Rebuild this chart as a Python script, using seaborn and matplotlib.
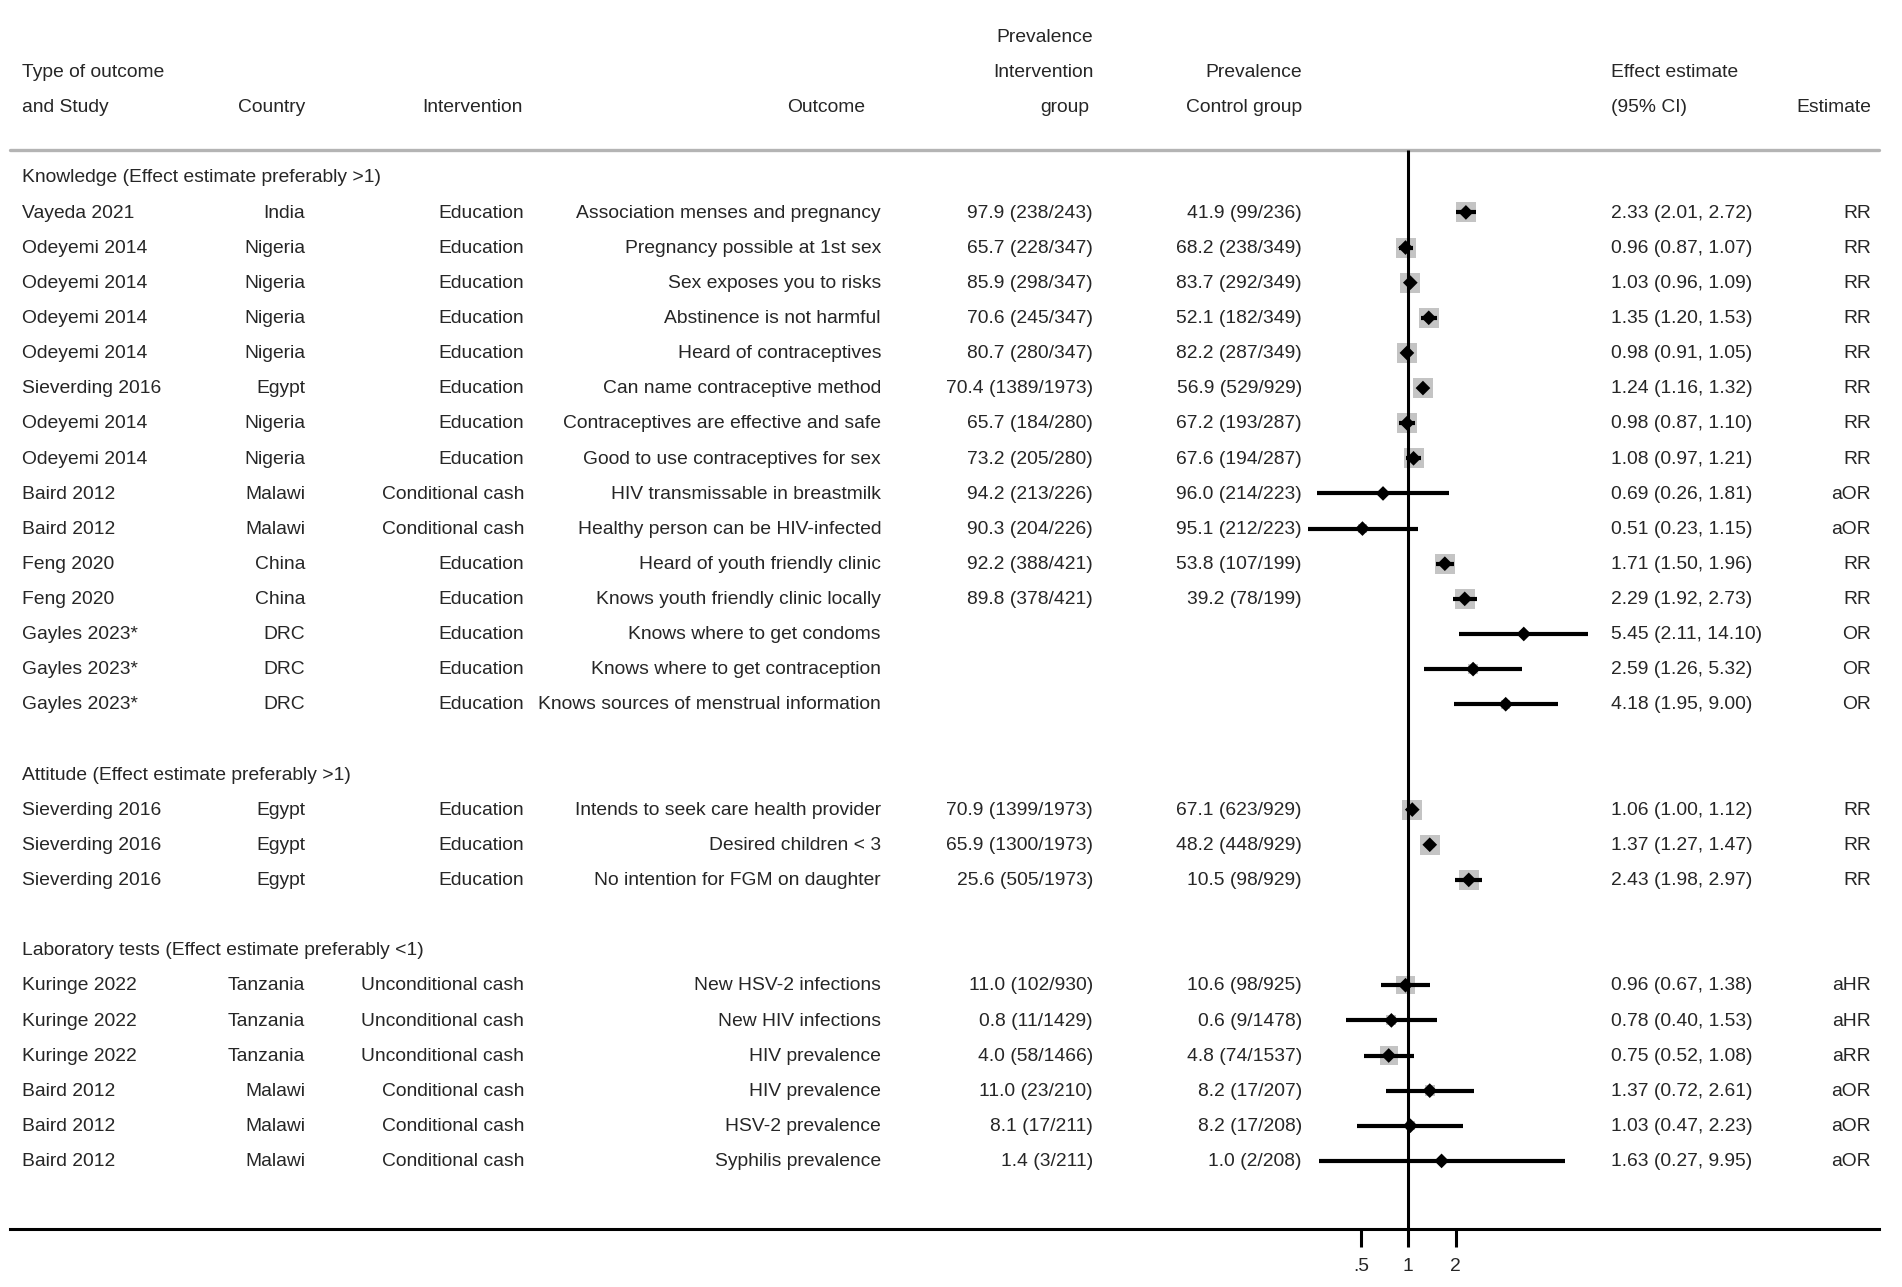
import matplotlib
matplotlib.use("Agg")
import matplotlib.pyplot as plt
import matplotlib.transforms as mtransforms
from matplotlib.ticker import NullLocator
import numpy as np
import pandas as pd
import seaborn as sns

group_titles = [
    "Knowledge (Effect estimate preferably >1)",
    "Attitude (Effect estimate preferably >1)",
    "Laboratory tests (Effect estimate preferably <1)",
]
group_sizes = [15, 3, 6]

study = [
    "Vayeda 2021", "Odeyemi 2014", "Odeyemi 2014", "Odeyemi 2014", "Odeyemi 2014",
    "Sieverding 2016", "Odeyemi 2014", "Odeyemi 2014", "Baird 2012", "Baird 2012",
    "Feng 2020", "Feng 2020", "Gayles 2023*", "Gayles 2023*", "Gayles 2023*",
    "Sieverding 2016", "Sieverding 2016", "Sieverding 2016",
    "Kuringe 2022", "Kuringe 2022", "Kuringe 2022", "Baird 2012", "Baird 2012", "Baird 2012",
]
country = [
    "India", "Nigeria", "Nigeria", "Nigeria", "Nigeria", "Egypt", "Nigeria", "Nigeria",
    "Malawi", "Malawi", "China", "China", "DRC", "DRC", "DRC",
    "Egypt", "Egypt", "Egypt",
    "Tanzania", "Tanzania", "Tanzania", "Malawi", "Malawi", "Malawi",
]
intervention = [
    "Education", "Education", "Education", "Education", "Education", "Education",
    "Education", "Education", "Conditional cash", "Conditional cash", "Education",
    "Education", "Education", "Education", "Education",
    "Education", "Education", "Education",
    "Unconditional cash", "Unconditional cash", "Unconditional cash",
    "Conditional cash", "Conditional cash", "Conditional cash",
]
outcome = [
    "Association menses and pregnancy", "Pregnancy possible at 1st sex",
    "Sex exposes you to risks", "Abstinence is not harmful", "Heard of contraceptives",
    "Can name contraceptive method", "Contraceptives are effective and safe",
    "Good to use contraceptives for sex", "HIV transmissable in breastmilk",
    "Healthy person can be HIV-infected", "Heard of youth friendly clinic",
    "Knows youth friendly clinic locally", "Knows where to get condoms",
    "Knows where to get contraception", "Knows sources of menstrual information",
    "Intends to seek care health provider", "Desired children < 3",
    "No intention for FGM on daughter",
    "New HSV-2 infections", "New HIV infections", "HIV prevalence",
    "HIV prevalence", "HSV-2 prevalence", "Syphilis prevalence",
]
prev_int = [
    "97.9 (238/243)", "65.7 (228/347)", "85.9 (298/347)", "70.6 (245/347)",
    "80.7 (280/347)", "70.4 (1389/1973)", "65.7 (184/280)", "73.2 (205/280)",
    "94.2 (213/226)", "90.3 (204/226)", "92.2 (388/421)", "89.8 (378/421)", "", "", "",
    "70.9 (1399/1973)", "65.9 (1300/1973)", "25.6 (505/1973)",
    "11.0 (102/930)", "0.8 (11/1429)", "4.0 (58/1466)", "11.0 (23/210)",
    "8.1 (17/211)", "1.4 (3/211)",
]
prev_ctl = [
    "41.9 (99/236)", "68.2 (238/349)", "83.7 (292/349)", "52.1 (182/349)",
    "82.2 (287/349)", "56.9 (529/929)", "67.2 (193/287)", "67.6 (194/287)",
    "96.0 (214/223)", "95.1 (212/223)", "53.8 (107/199)", "39.2 (78/199)", "", "", "",
    "67.1 (623/929)", "48.2 (448/929)", "10.5 (98/929)",
    "10.6 (98/925)", "0.6 (9/1478)", "4.8 (74/1537)", "8.2 (17/207)",
    "8.2 (17/208)", "1.0 (2/208)",
]
est = [2.33, 0.96, 1.03, 1.35, 0.98, 1.24, 0.98, 1.08, 0.69, 0.51, 1.71, 2.29, 5.45, 2.59, 4.18,
       1.06, 1.37, 2.43,
       0.96, 0.78, 0.75, 1.37, 1.03, 1.63]
ci_lo = [2.01, 0.87, 0.96, 1.20, 0.91, 1.16, 0.87, 0.97, 0.26, 0.23, 1.50, 1.92, 2.11, 1.26, 1.95,
         1.00, 1.27, 1.98,
         0.67, 0.40, 0.52, 0.72, 0.47, 0.27]
ci_hi = [2.72, 1.07, 1.09, 1.53, 1.05, 1.32, 1.10, 1.21, 1.81, 1.15, 1.96, 2.73, 14.10, 5.32, 9.00,
         1.12, 1.47, 2.97,
         1.38, 1.53, 1.08, 2.61, 2.23, 9.95]
measure = ["RR", "RR", "RR", "RR", "RR", "RR", "RR", "RR", "aOR", "aOR", "RR", "RR", "OR", "OR", "OR",
           "RR", "RR", "RR",
           "aHR", "aHR", "aRR", "aOR", "aOR", "aOR"]

# row layout: group header, its studies, then one empty row
rows, header_rows = [], []
r = 0
for n in group_sizes:
    header_rows.append(r)
    rows.extend(range(r + 1, r + 1 + n))
    r += n + 2

df = pd.DataFrame({"row": rows, "est": est, "lo": ci_lo, "hi": ci_hi})
se = (np.log(df["hi"]) - np.log(df["lo"])) / 3.92
box_px = np.minimum(20.0, 3.4 / se)
df["box"] = (box_px * 0.72) ** 2

sns.set_style("white")
plt.rcParams["font.family"] = ["Liberation Sans", "DejaVu Sans"]
FS = 13.9
TXT = "#262626"

W, H = 1902, 1287
fig = plt.figure(figsize=(W / 100, H / 100), dpi=100)
ax = fig.add_axes([10 / W, 1 - 1228.7 / H, (1879 - 10) / W, (1228.7 - 139.7) / H])

x1, ppd = 1408.3, 47.2
ax.set_xscale("log", base=2)
ax.set_xlim(2 ** (-(x1 - 10) / ppd), 2 ** ((1879 - x1) / ppd))
ax.set_ylim(29.93, -1.07)
top_rule = -0.777

# weight boxes, CIs, point estimates
ax.scatter(df["est"], df["row"], s=df["box"], marker="s", color="#c4c4c4", lw=0, zorder=2)
ax.hlines(df["row"], df["lo"], df["hi"], color="black", lw=3.0, zorder=3)
sns.scatterplot(data=df, x="est", y="row", marker="D", s=56, color="black",
                edgecolor="none", ax=ax, zorder=4, legend=False)
ax.vlines(1, top_rule, 29.93, color="black", lw=2.2, zorder=5)
ax.axhline(top_rule, color="#b4b4b4", lw=2.4, clip_on=False)

ax.set_xticks([0.5, 1, 2])
ax.set_xticklabels([".5", "1", "2"])
ax.xaxis.set_minor_locator(NullLocator())
ax.set_yticks([])
ax.set_xlabel("")
ax.set_ylabel("")
sns.despine(ax=ax, left=True)
ax.spines["bottom"].set_linewidth(2.2)
ax.spines["bottom"].set_color("black")
ax.tick_params(axis="x", direction="out", length=13, width=2.2, color="black",
               labelsize=FS, labelcolor=TXT, pad=8, bottom=True)

trans = mtransforms.blended_transform_factory(fig.transFigure, ax.transData)


def put(x_px, y, s, ha):
    ax.text(x_px / W, y + 0.02, s, transform=trans, ha=ha, va="center", fontsize=FS, color=TXT)


# header
put(22, -3, "Type of outcome", "left")
put(22, -2, "and Study", "left")
put(305, -2, "Country", "right")
put(523, -2, "Intervention", "right")
put(865, -2, "Outcome", "right")
put(1093, -4, "Prevalence", "right")
put(1094, -3, "Intervention", "right")
put(1089, -2, "group", "right")
put(1302, -3, "Prevalence", "right")
put(1302, -2, "Control group", "right")
put(1611, -3, "Effect estimate", "left")
put(1611, -2, "(95% CI)", "left")
put(1871, -2, "Estimate", "right")

for hr, title in zip(header_rows, group_titles):
    put(22, hr, title, "left")

for i, y in enumerate(rows):
    put(22, y, study[i], "left")
    put(305, y, country[i], "right")
    put(524, y, intervention[i], "right")
    put(881, y, outcome[i], "right")
    put(1093, y, prev_int[i], "right")
    put(1302, y, prev_ctl[i], "right")
    put(1611, y, f"{est[i]:.2f} ({ci_lo[i]:.2f}, {ci_hi[i]:.2f})", "left")
    put(1871, y, measure[i], "right")

fig.savefig("out.png", dpi=100)
